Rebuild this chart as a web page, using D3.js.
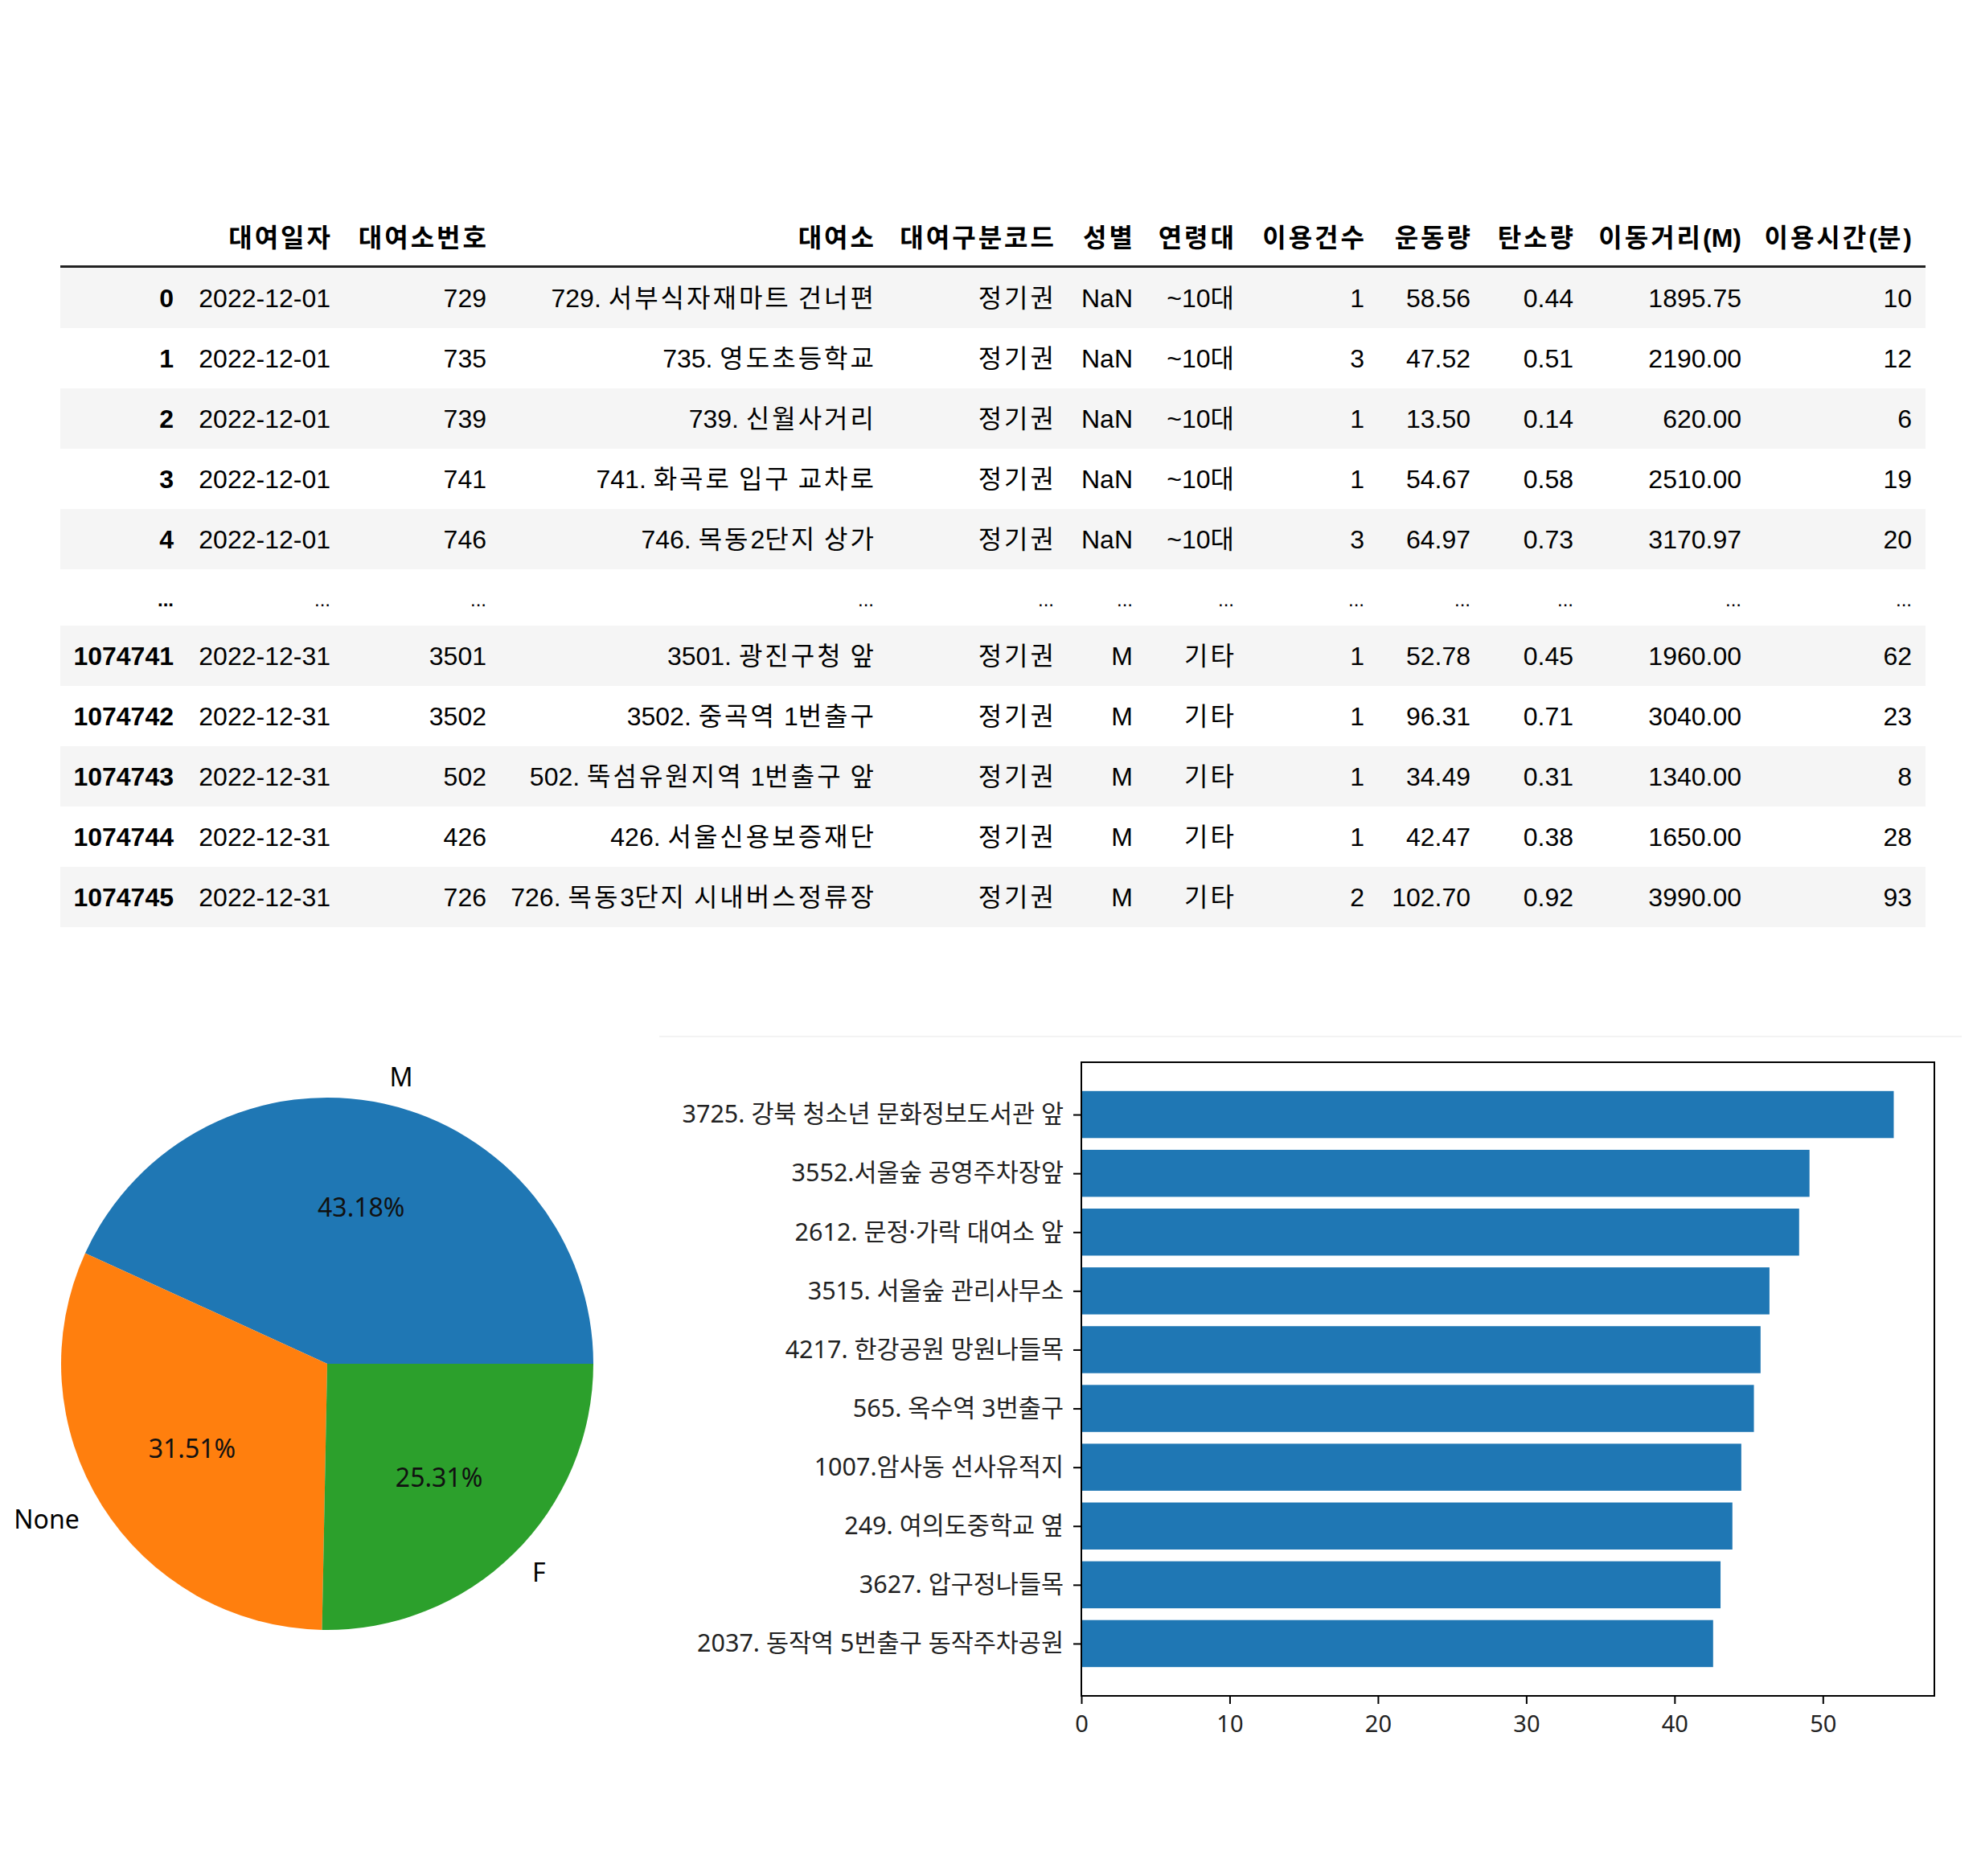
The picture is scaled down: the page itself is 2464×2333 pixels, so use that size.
<!DOCTYPE html>
<html>
<head>
<meta charset="utf-8">
<script src="https://cdn.jsdelivr.net/npm/d3@7"></script>
<style>
  html, body { margin: 0; padding: 0; background: #fff; }
  svg { display: block; }
</style>
</head>
<body>
<script>
// ---------------- DATA ----------------
const tableHeaders = ["", "대여일자", "대여소번호", "대여소", "대여구분코드", "성별", "연령대", "이용건수", "운동량", "탄소량", "이동거리(M)", "이용시간(분)"];
const rowIndex    = ["0", "1", "2", "3", "4", "...", "1074741", "1074742", "1074743", "1074744", "1074745"];
const rentDates   = ["2022-12-01", "2022-12-01", "2022-12-01", "2022-12-01", "2022-12-01", "...", "2022-12-31", "2022-12-31", "2022-12-31", "2022-12-31", "2022-12-31"];
const stationNos  = ["729", "735", "739", "741", "746", "...", "3501", "3502", "502", "426", "726"];
const stationNames = ["729. 서부식자재마트 건너편", "735. 영도초등학교", "739. 신월사거리", "741. 화곡로 입구 교차로", "746. 목동2단지 상가", "...", "3501. 광진구청 앞", "3502. 중곡역 1번출구", "502. 뚝섬유원지역 1번출구 앞", "426. 서울신용보증재단", "726. 목동3단지 시내버스정류장"];
const rentCodes   = ["정기권", "정기권", "정기권", "정기권", "정기권", "...", "정기권", "정기권", "정기권", "정기권", "정기권"];
const genders     = ["NaN", "NaN", "NaN", "NaN", "NaN", "...", "M", "M", "M", "M", "M"];
const ageGroups   = ["~10대", "~10대", "~10대", "~10대", "~10대", "...", "기타", "기타", "기타", "기타", "기타"];
const useCounts   = ["1", "3", "1", "1", "3", "...", "1", "1", "1", "1", "2"];
const exercise    = ["58.56", "47.52", "13.50", "54.67", "64.97", "...", "52.78", "96.31", "34.49", "42.47", "102.70"];
const carbon      = ["0.44", "0.51", "0.14", "0.58", "0.73", "...", "0.45", "0.71", "0.31", "0.38", "0.92"];
const distances   = ["1895.75", "2190.00", "620.00", "2510.00", "3170.97", "...", "1960.00", "3040.00", "1340.00", "1650.00", "3990.00"];
const minutes     = ["10", "12", "6", "19", "20", "...", "62", "23", "8", "28", "93"];

const pieLabels = ["M", "None", "F"];
const pieValues = [43.18, 31.51, 25.31];

const barLabels = [
  "3725. 강북 청소년 문화정보도서관 앞",
  "3552.서울숲 공영주차장앞",
  "2612. 문정·가락 대여소 앞",
  "3515. 서울숲 관리사무소",
  "4217. 한강공원 망원나들목",
  "565. 옥수역 3번출구",
  "1007.암사동 선사유적지",
  "249. 여의도중학교 옆",
  "3627. 압구정나들목",
  "2037. 동작역 5번출구 동작주차공원"
];
const barValues = [54.78, 49.1, 48.4, 46.4, 45.8, 45.35, 44.5, 43.9, 43.1, 42.6];
const xTicks = [0, 10, 20, 30, 40, 50];

// ---------------- LAYOUT ----------------
const W = 2464, H = 2333;
const svg = d3.select("body").append("svg").attr("width", W).attr("height", H);
svg.append("rect").attr("width", W).attr("height", H).attr("fill", "#fff");

const tableFont = "'Liberation Sans', Arial, 'Noto Sans CJK KR', sans-serif";
const chartFont = "'Noto Sans', 'Open Sans', 'Noto Sans CJK KR', sans-serif";
const HSP = 3; // extra spacing for hangul runs in the table

// split text into hangul / non-hangul runs, widen hangul runs
const hangulRe = /[\u1100-\u11ff\u3130-\u318f\uac00-\ud7af]+/g;
function writeRuns(sel, str, spacing) {
  let last = 0, m;
  hangulRe.lastIndex = 0;
  const runs = [];
  while ((m = hangulRe.exec(str)) !== null) {
    if (m.index > last) runs.push({ t: str.slice(last, m.index), h: false });
    runs.push({ t: m[0], h: true });
    last = m.index + m[0].length;
  }
  if (last < str.length) runs.push({ t: str.slice(last), h: false });
  sel.selectAll("tspan").data(runs).join("tspan")
    .attr("letter-spacing", d => d.h ? spacing : null)
    .text(d => d.t);
}
const endsHangul = s => /[\uac00-\ud7af]$/.test(s);

// ---------------- TABLE ----------------
const columns = [rowIndex, rentDates, stationNos, stationNames, rentCodes, genders, ageGroups, useCounts, exercise, carbon, distances, minutes];
const colRight = [216, 411, 605, 1087, 1311, 1409, 1535, 1697, 1829, 1957, 2166, 2378];
const tableLeft = 75, tableRight = 2395;
const rowH = 75, ellH = 70, firstTop = 333;

const rows = rowIndex.map((r, i) => {
  let top;
  if (i < 5) top = firstTop + i * rowH;
  else if (i === 5) top = firstTop + 5 * rowH;
  else top = firstTop + 5 * rowH + ellH + (i - 6) * rowH;
  const h = i === 5 ? ellH : rowH;
  return { i, top, h, ell: i === 5, cells: columns.map(c => c[i]) };
});

const table = svg.append("g").attr("font-family", tableFont).attr("font-size", 32);

// header
table.append("g").selectAll("text").data(tableHeaders).join("text")
  .attr("x", (d, j) => colRight[j] + (endsHangul(d) ? HSP : 0))
  .attr("y", 296)
  .attr("dy", "0.35em")
  .attr("text-anchor", "end")
  .attr("font-weight", "bold")
  .attr("fill", "#000")
  .each(function (d) { writeRuns(d3.select(this), d, HSP); });

// stripes
table.append("g").selectAll("rect").data(rows.filter(r => !r.ell)).join("rect")
  .attr("x", tableLeft).attr("width", tableRight - tableLeft)
  .attr("y", d => d.top).attr("height", d => d.h)
  .attr("fill", (d) => ((d.i < 5 ? d.i : d.i - 6) % 2 === 0) ? "#f5f5f5" : "#fff");

// header rule
table.append("rect").attr("x", tableLeft).attr("y", 330).attr("width", tableRight - tableLeft).attr("height", 3).attr("fill", "#222");

// body cells
const rowG = table.append("g").selectAll("g").data(rows).join("g");
rowG.selectAll("text").data(r => r.cells.map((c, j) => ({ c, j, r }))).join("text")
  .attr("x", d => colRight[d.j] + (endsHangul(d.c) ? HSP : 0))
  .attr("y", d => d.r.top + d.r.h / 2 + (d.r.ell ? 3 : 0))
  .attr("dy", "0.35em")
  .attr("text-anchor", "end")
  .attr("font-weight", d => d.j === 0 ? "bold" : "normal")
  .attr("font-size", d => d.r.ell ? 24 : 32)
  .attr("fill", "#000")
  .each(function (d) { writeRuns(d3.select(this), d.c, HSP); });

// faint separator
svg.append("line").attr("x1", 820).attr("x2", 2440).attr("y1", 1289).attr("y2", 1289)
  .attr("stroke", "#f3f3f3").attr("stroke-width", 2);

// ---------------- PIE ----------------
const pieColors = ["#1f77b4", "#ff7f0e", "#2ca02c"];
const cx = 407, cy = 1696, R = 331;
const pie = d3.pie().sort(null).value(d => d)
  .startAngle(Math.PI / 2).endAngle(Math.PI / 2 - 2 * Math.PI);
const arcs = pie(pieValues);
const arcGen = d3.arc().innerRadius(0).outerRadius(R);
const pg = svg.append("g").attr("transform", `translate(${cx},${cy})`).attr("font-family", chartFont);
pg.selectAll("path").data(arcs).join("path")
  .attr("d", arcGen)
  .attr("fill", (d, i) => pieColors[i]);

const polar = (a, r) => [Math.sin(a) * r, -Math.cos(a) * r];
pg.selectAll("text.lab").data(arcs).join("text").attr("class", "lab")
  .each(function (d, i) {
    const mid = (d.startAngle + d.endAngle) / 2;
    const [x, y] = polar(mid, R * 1.1);
    d3.select(this).attr("x", x).attr("y", y)
      .attr("text-anchor", x >= 0 ? "start" : "end");
  })
  .attr("dy", "0.35em")
  .attr("font-size", 32)
  .attr("fill", "#000")
  .text((d, i) => pieLabels[i]);

pg.selectAll("text.pct").data(arcs).join("text").attr("class", "pct")
  .each(function (d) {
    const mid = (d.startAngle + d.endAngle) / 2;
    const [x, y] = polar(mid, R * 0.6);
    d3.select(this).attr("x", x).attr("y", y);
  })
  .attr("dy", "0.35em")
  .attr("text-anchor", "middle")
  .attr("font-size", 32)
  .attr("fill", "#111")
  .text(d => d.data.toFixed(2) + "%");

// ---------------- BAR CHART ----------------
const ax = { left: 1345, right: 2406, top: 1321, bottom: 2109 };
const xMax = d3.max(barValues) * 1.05;
const x = d3.scaleLinear().domain([0, xMax]).range([ax.left, ax.right]);
const n = barValues.length;
const yPad = 0.05 * (n - 1 + 0.8);
const y = d3.scaleLinear().domain([-0.4 - yPad, n - 1 + 0.4 + yPad]).range([ax.top, ax.bottom]);
const barH = y(0.8) - y(0);

const bg = svg.append("g").attr("font-family", chartFont);
bg.append("g").selectAll("rect").data(barValues).join("rect")
  .attr("x", x(0))
  .attr("y", (d, i) => y(i - 0.4))
  .attr("width", d => x(d) - x(0))
  .attr("height", barH)
  .attr("fill", "#1f77b4");

// frame
bg.append("rect").attr("x", ax.left).attr("y", ax.top)
  .attr("width", ax.right - ax.left).attr("height", ax.bottom - ax.top)
  .attr("fill", "none").attr("stroke", "#000").attr("stroke-width", 2);

const yAxis = d3.axisLeft(y).tickValues(d3.range(n)).tickFormat(i => barLabels[i]).tickSize(10).tickPadding(12);
const yg = bg.append("g").attr("transform", `translate(${ax.left},0)`).call(yAxis);
yg.select(".domain").remove();
yg.selectAll("line").attr("stroke", "#000").attr("stroke-width", 2);
yg.selectAll("text").attr("font-size", 30.5).attr("font-family", chartFont).attr("fill", "#222");

const xAxis = d3.axisBottom(x).tickValues(xTicks).tickFormat(d3.format("d")).tickSize(10).tickPadding(14);
const xg = bg.append("g").attr("transform", `translate(0,${ax.bottom})`).call(xAxis);
xg.select(".domain").remove();
xg.selectAll("line").attr("stroke", "#000").attr("stroke-width", 2);
xg.selectAll("text").attr("font-size", 29).attr("font-family", chartFont).attr("fill", "#222");
</script>
</body>
</html>
